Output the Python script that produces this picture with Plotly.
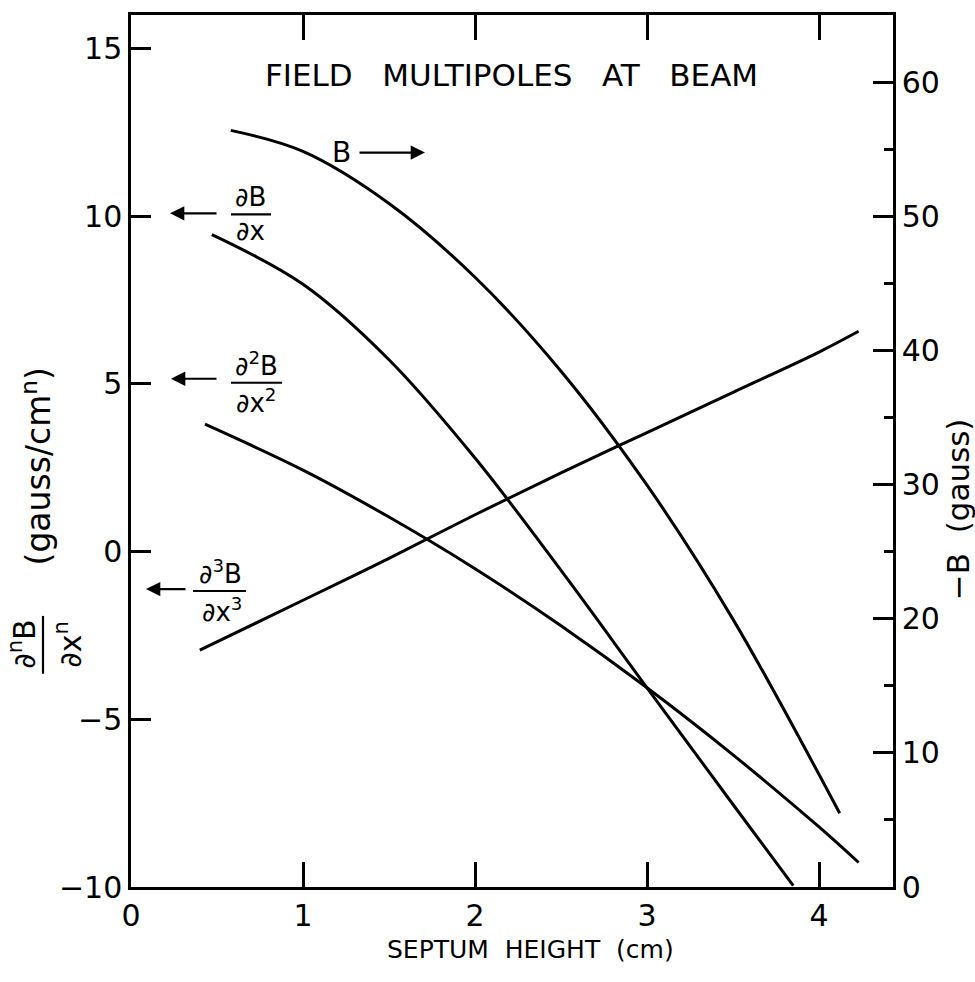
import plotly.graph_objects as go

# ---------------- data ----------------
# septum height (cm) and field multipoles (gauss/cm^n), left axis
x_d1 = [0.47, 1.0, 1.5, 2.0, 2.5, 3.0, 3.5, 3.85]
y_d1 = [9.45, 7.97, 5.72, 2.79, -0.56, -4.06, -7.54, -9.96]

x_d2 = [0.43, 1.0, 1.5, 2.0, 2.5, 3.0, 3.5, 4.0, 4.23]
y_d2 = [3.8, 2.43, 1.03, -0.51, -2.21, -4.06, -6.06, -8.21, -9.27]

x_d3 = [0.40, 1.0, 1.5, 2.0, 2.5, 3.0, 3.5, 4.0, 4.23]
y_d3 = [-2.94, -1.45, -0.2, 1.1, 2.35, 3.55, 4.75, 5.95, 6.57]

# -B (gauss), right axis
x_B = [0.58, 1.0, 1.5, 2.0, 2.5, 3.0, 3.5, 4.12]
y_B = [56.4, 54.83, 50.95, 45.45, 38.45, 29.95, 19.95, 5.5]

x_ticks = [0, 1, 2, 3, 4]
x_ticklabels = ["0", "1", "2", "3", "4"]
yl_ticks = [-10, -5, 0, 5, 10, 15]
yl_ticklabels = ["−10", "−5", "0", "5", "10", "15"]
yr_ticks = [0, 10, 20, 30, 40, 50, 60]
yr_ticklabels = ["0", "10", "20", "30", "40", "50", "60"]

FONT = "DejaVu Sans"

# plot area in pixels
L, R, T, Bt = 131, 893, 12, 887
W, H = 975, 982


def px(xp):
    return (xp - L) / (R - L)


def py(yp):
    return (Bt - yp) / (Bt - T)


fig = go.Figure()
line = dict(color="black", width=3, shape="spline", smoothing=1.0)
fig.add_trace(go.Scatter(x=x_d1, y=y_d1, mode="lines", line=line, yaxis="y"))
fig.add_trace(go.Scatter(x=x_d2, y=y_d2, mode="lines", line=line, yaxis="y"))
fig.add_trace(go.Scatter(x=x_d3, y=y_d3, mode="lines", line=line, yaxis="y"))
fig.add_trace(go.Scatter(x=x_B, y=y_B, mode="lines", line=line, yaxis="y2"))

tickfont = dict(family=FONT, size=30, color="black")

fig.update_layout(
    width=W, height=H,
    margin=dict(l=L, r=W - R, t=T, b=H - Bt),
    paper_bgcolor="white", plot_bgcolor="white",
    showlegend=False,
    xaxis=dict(range=[0, 4.43], tickvals=x_ticks, ticktext=x_ticklabels,
               showgrid=False, zeroline=False, showline=True, linecolor="black",
               linewidth=2.5, mirror="ticks", ticks="inside", ticklen=25,
               tickwidth=2.5, tickcolor="black", tickfont=tickfont),
    yaxis=dict(range=[-10, 16], tickvals=yl_ticks, ticktext=yl_ticklabels,
               showgrid=False, zeroline=False, showline=True, linecolor="black",
               linewidth=2.5, ticks="inside", ticklen=20, tickwidth=2.5,
               tickcolor="black", tickfont=tickfont),
    yaxis2=dict(range=[0, 65], tickvals=yr_ticks, ticktext=yr_ticklabels,
                overlaying="y", side="right",
                showgrid=False, zeroline=False, showline=True, linecolor="black",
                linewidth=2.5, ticks="inside", ticklen=20, tickwidth=2.5,
                tickcolor="black", tickfont=tickfont,
                minor=dict(tickvals=[5, 15, 25, 35, 45, 55], ticks="inside",
                           ticklen=9, tickwidth=2.5, tickcolor="black")),
)

ann = []


def text(xp, yp, s, size=28, angle=0, xanchor="center"):
    ann.append(dict(x=px(xp), y=py(yp), xref="paper", yref="paper", text=s,
                    showarrow=False, textangle=angle, xanchor=xanchor,
                    yanchor="middle", borderpad=0,
                    font=dict(family=FONT, size=size, color="black")))


def arrow(x_head, y_head, x_tail, y_tail):
    ann.append(dict(x=px(x_head), y=py(y_head), xref="paper", yref="paper",
                    ax=x_tail - x_head, ay=y_tail - y_head,
                    axref="pixel", ayref="pixel",
                    text="", showarrow=True, arrowhead=2, arrowsize=1.3,
                    arrowwidth=2.2, arrowcolor="black"))


shapes = []


def hline(x0, x1, yp):
    shapes.append(dict(type="line", xref="paper", yref="paper",
                       x0=px(x0), x1=px(x1), y0=py(yp), y1=py(yp),
                       line=dict(color="black", width=2.2)))


def vline(xp, y0, y1):
    shapes.append(dict(type="line", xref="paper", yref="paper",
                       x0=px(xp), x1=px(xp), y0=py(y0), y1=py(y1),
                       line=dict(color="black", width=2.2)))


# title
text(511, 72, "FIELD   MULTIPOLES   AT   BEAM", size=31)

# B label with arrow to the right axis
text(341, 150, "B", size=28)
arrow(425, 150, 358, 150)

# dB/dx label
text(250, 195, "∂B", size=26)
hline(231, 271, 212)
text(250, 229, "∂x", size=26)
arrow(170, 211, 218, 211)

# d2B/dx2 label
text(256, 362, "∂<sup>2</sup>B", size=26)
hline(231, 282, 381)
text(256, 399, "∂x<sup>2</sup>", size=26)
arrow(171, 377, 218, 377)

# d3B/dx3 label
text(220, 571, "∂<sup>3</sup>B", size=26)
hline(193, 246, 590)
text(222, 609, "∂x<sup>3</sup>", size=26)
arrow(146, 588, 187, 588)

# left axis title (rotated)
text(37, 465, "(gauss/cm<sup>n</sup>)", size=33, angle=-90)
text(23, 644, "∂<sup>n</sup>B", size=30, angle=-90)
vline(43, 615, 673)
text(69, 644, "∂x<sup>n</sup>", size=30, angle=-90)

# right axis title
text(958, 508, "−B  (gauss)", size=31, angle=-90)

# x axis title
text(530, 950, "SEPTUM  HEIGHT  (cm)", size=25)

fig.update_layout(annotations=ann, shapes=shapes)

fig.write_html("out.html")
